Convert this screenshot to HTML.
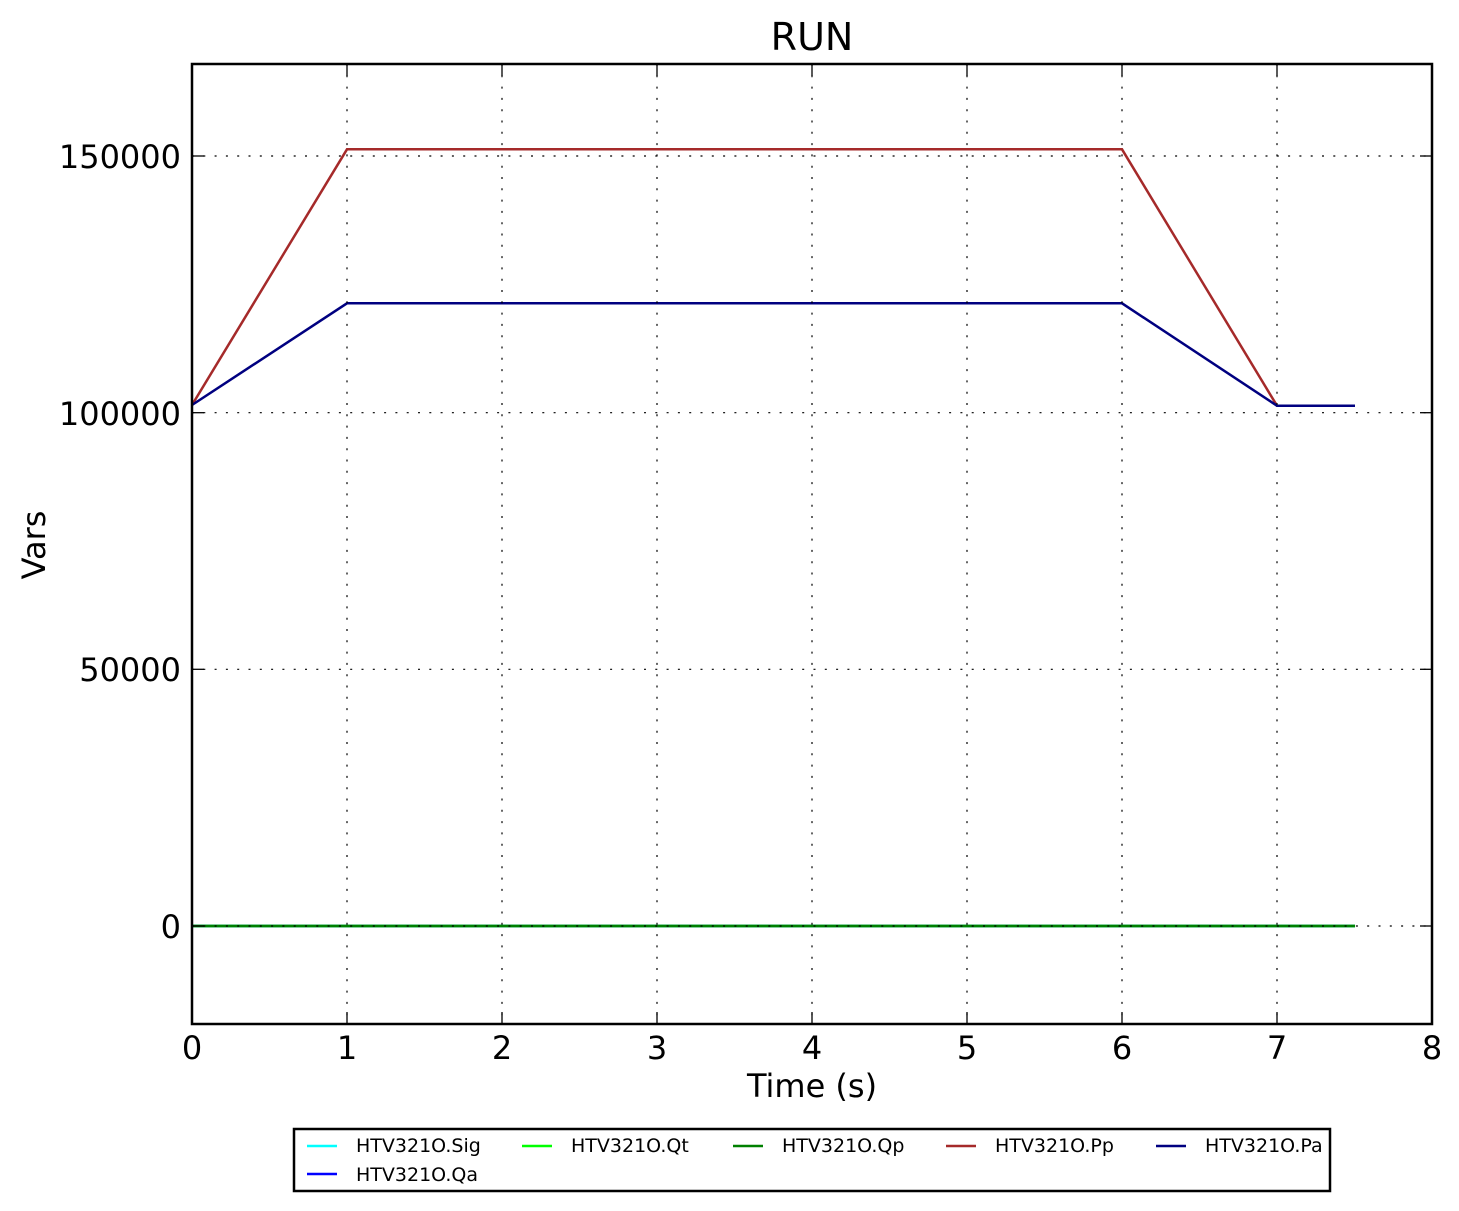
<!DOCTYPE html>
<html>
<head>
<meta charset="utf-8">
<style>
  html, body { margin: 0; padding: 0; background: #ffffff; }
  svg { display: block; }
  text { font-family: "DejaVu Sans", "Liberation Sans", sans-serif; fill: #000; }
</style>
</head>
<body>
<svg width="1459" height="1211" viewBox="0 0 1459 1211" xmlns="http://www.w3.org/2000/svg">
  <rect x="0" y="0" width="1459" height="1211" fill="#ffffff"/>

  <!-- Title -->
  <text x="812" y="50" font-size="38" text-anchor="middle">RUN</text>

  <!-- Series -->
  <g fill="none" stroke-width="2.5" stroke-linejoin="miter">
    <polyline points="192,926 1355,926" stroke="#00ffff"/>
    <polyline points="192,926 1355,926" stroke="#0000ff"/>
    <polyline points="192,926 1355,926" stroke="#00ff00"/>
    <polyline points="192,926 1355,926" stroke="#008000"/>
    <polyline points="192,405 347,149.3 1122,149.3 1277,405.7 1355,405.7" stroke="#a52a2a"/>
    <polyline points="192,405 347,303.3 1122,303.3 1277,405.7 1355,405.7" stroke="#000080"/>
  </g>

  <!-- Grid (drawn above lines) -->
  <g stroke="#000" stroke-width="1.2" stroke-dasharray="2 9.3" fill="none">
    <line x1="347" y1="64" x2="347" y2="1024"/>
    <line x1="502" y1="64" x2="502" y2="1024"/>
    <line x1="657" y1="64" x2="657" y2="1024"/>
    <line x1="812" y1="64" x2="812" y2="1024"/>
    <line x1="967" y1="64" x2="967" y2="1024"/>
    <line x1="1122" y1="64" x2="1122" y2="1024"/>
    <line x1="1277" y1="64" x2="1277" y2="1024"/>
    <line x1="192" y1="156" x2="1432" y2="156"/>
    <line x1="192" y1="412.7" x2="1432" y2="412.7"/>
    <line x1="192" y1="669.3" x2="1432" y2="669.3"/>
    <line x1="192" y1="926" x2="1432" y2="926"/>
  </g>

  <!-- Ticks (inside, all four sides) -->
  <g stroke="#000" stroke-width="1.3">
    <!-- bottom -->
    <line x1="192" y1="1024" x2="192" y2="1012"/>
    <line x1="347" y1="1024" x2="347" y2="1012"/>
    <line x1="502" y1="1024" x2="502" y2="1012"/>
    <line x1="657" y1="1024" x2="657" y2="1012"/>
    <line x1="812" y1="1024" x2="812" y2="1012"/>
    <line x1="967" y1="1024" x2="967" y2="1012"/>
    <line x1="1122" y1="1024" x2="1122" y2="1012"/>
    <line x1="1277" y1="1024" x2="1277" y2="1012"/>
    <line x1="1432" y1="1024" x2="1432" y2="1012"/>
    <!-- top -->
    <line x1="192" y1="64" x2="192" y2="76"/>
    <line x1="347" y1="64" x2="347" y2="76"/>
    <line x1="502" y1="64" x2="502" y2="76"/>
    <line x1="657" y1="64" x2="657" y2="76"/>
    <line x1="812" y1="64" x2="812" y2="76"/>
    <line x1="967" y1="64" x2="967" y2="76"/>
    <line x1="1122" y1="64" x2="1122" y2="76"/>
    <line x1="1277" y1="64" x2="1277" y2="76"/>
    <line x1="1432" y1="64" x2="1432" y2="76"/>
    <!-- left -->
    <line x1="192" y1="156" x2="204" y2="156"/>
    <line x1="192" y1="412.7" x2="204" y2="412.7"/>
    <line x1="192" y1="669.3" x2="204" y2="669.3"/>
    <line x1="192" y1="926" x2="204" y2="926"/>
    <!-- right -->
    <line x1="1432" y1="156" x2="1420" y2="156"/>
    <line x1="1432" y1="412.7" x2="1420" y2="412.7"/>
    <line x1="1432" y1="669.3" x2="1420" y2="669.3"/>
    <line x1="1432" y1="926" x2="1420" y2="926"/>
  </g>

  <!-- Axes frame -->
  <rect x="192" y="64" width="1240" height="960" fill="none" stroke="#000" stroke-width="2.5"/>

  <!-- Y tick labels -->
  <g font-size="32" text-anchor="end">
    <text x="181" y="168">150000</text>
    <text x="181" y="425">100000</text>
    <text x="181" y="681">50000</text>
    <text x="181" y="938">0</text>
  </g>

  <!-- X tick labels -->
  <g font-size="32" text-anchor="middle">
    <text x="192" y="1059">0</text>
    <text x="347" y="1059">1</text>
    <text x="502" y="1059">2</text>
    <text x="657" y="1059">3</text>
    <text x="812" y="1059">4</text>
    <text x="967" y="1059">5</text>
    <text x="1122" y="1059">6</text>
    <text x="1277" y="1059">7</text>
    <text x="1432" y="1059">8</text>
  </g>

  <!-- Axis labels -->
  <text x="812" y="1097" font-size="32" text-anchor="middle">Time (s)</text>
  <text transform="translate(45,545) rotate(-90)" font-size="32" text-anchor="middle">Vars</text>

  <!-- Legend -->
  <rect x="294" y="1129" width="1036" height="62" fill="#ffffff" stroke="#000" stroke-width="2.5"/>
  <g stroke-width="2.5">
    <line x1="307" y1="1146" x2="337" y2="1146" stroke="#00ffff"/>
    <line x1="307" y1="1174" x2="337" y2="1174" stroke="#0000ff"/>
    <line x1="522" y1="1146" x2="552" y2="1146" stroke="#00ff00"/>
    <line x1="733" y1="1146" x2="763" y2="1146" stroke="#008000"/>
    <line x1="946" y1="1146" x2="976" y2="1146" stroke="#a52a2a"/>
    <line x1="1156" y1="1146" x2="1186" y2="1146" stroke="#000080"/>
  </g>
  <g font-size="19">
    <text x="356" y="1152">HTV321O.Sig</text>
    <text x="356" y="1181">HTV321O.Qa</text>
    <text x="571" y="1152">HTV321O.Qt</text>
    <text x="782" y="1152">HTV321O.Qp</text>
    <text x="995" y="1152">HTV321O.Pp</text>
    <text x="1205" y="1152">HTV321O.Pa</text>
  </g>
</svg>
</body>
</html>
